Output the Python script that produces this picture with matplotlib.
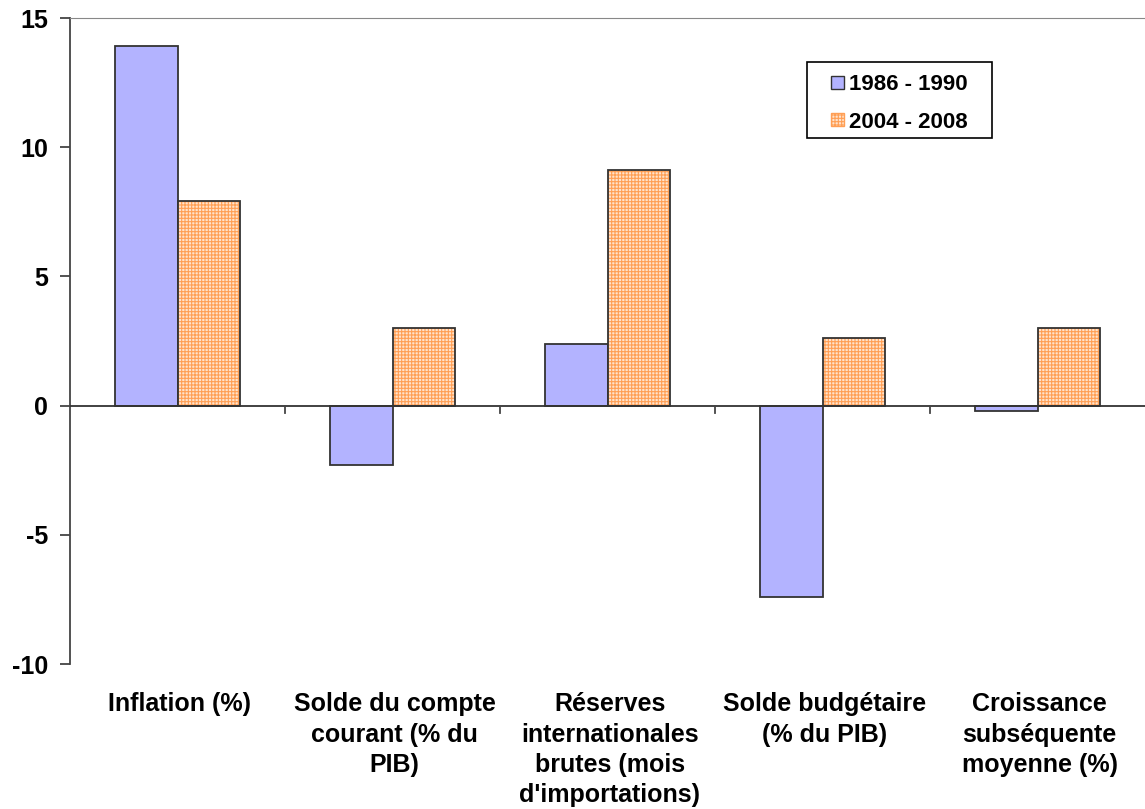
import matplotlib.pyplot as plt
import numpy as np
from matplotlib.patches import Patch, Rectangle
from matplotlib.legend_handler import HandlerPatch

categories = ["Inflation (%)", "Solde du compte\ncourant (% du\nPIB)",
              "Réserves\ninternationales\nbrutes (mois\nd'importations)",
              "Solde budgétaire\n(% du PIB)", "Croissance\nsubséquente\nmoyenne (%)"]
series_1986 = [13.9, -2.3, 2.4, -7.4, -0.2]
series_2004 = [7.9, 3.0, 9.1, 2.6, 3.0]
labels = ["1986 - 1990", "2004 - 2008"]

plt.rcParams['font.family'] = ['Liberation Sans', 'DejaVu Sans']
plt.rcParams['font.weight'] = 'bold'
plt.rcParams['axes.unicode_minus'] = False
plt.rcParams['hatch.linewidth'] = 0.8

W, H = 1145, 809
fig = plt.figure(figsize=(W / 100, H / 100), dpi=100)
ax = fig.add_axes([70 / W, 145 / H, 1 - 70 / W, 646 / H])

x = np.arange(len(categories))
w = 0.289
blue = '#B3B3FF'
orange_fill = '#FFE3CC'
orange_hatch = '#FF9F55'

ax.bar(x - w / 2, series_1986, w, color=blue, edgecolor='#333333', linewidth=1.3, zorder=3)
# orange hatched bars: fill + hatch first, then outline on top
ax.bar(x + w / 2, series_2004, w, color=orange_fill, edgecolor=orange_hatch, hatch='+++++',
       linewidth=0, zorder=3)
ax.bar(x + w / 2, series_2004, w, color='none', edgecolor='#333333', linewidth=1.3, zorder=4)

ax.set_xlim(-0.5, 4.5)
ax.set_ylim(-10, 15)
ax.set_yticks([-10, -5, 0, 5, 10, 15])
ax.tick_params(axis='y', labelsize=18, length=7, width=1.3, color='#444444', pad=9)

ax.axhline(0, color='#333333', linewidth=1.3, zorder=5)
ax.set_xticks([])
for b in [0.5, 1.5, 2.5, 3.5]:
    ax.plot([b, b], [0, -0.3], color='#444444', linewidth=1.3, zorder=5, clip_on=False)

for i, c in enumerate(categories):
    ax.text(i + 0.01, -11.1, c, ha='center', va='top', fontsize=18, fontweight='bold',
            linespacing=1.33)

for s in ['right', 'bottom']:
    ax.spines[s].set_visible(False)
ax.spines['left'].set_color('#444444')
ax.spines['left'].set_linewidth(1.3)
ax.spines['top'].set_color('#888888')
ax.spines['top'].set_linewidth(0.8)


def small_square(legend, orig_handle, xdescent, ydescent, width, height, fontsize):
    size = 13 * 72 / 100
    return Rectangle((width - size - xdescent, (height - size) / 2 - ydescent), size, size)


handles = [Patch(facecolor=blue, edgecolor='#333333', linewidth=1),
           Patch(facecolor=orange_fill, edgecolor=orange_hatch, hatch='+++++', linewidth=1)]
leg = ax.legend(handles, labels, loc='upper left',
                bbox_to_anchor=((807 - 70) / 1075, 1 - (65 - 18) / 646),
                borderaxespad=0, fontsize=16, frameon=False,
                handlelength=1.25, handleheight=0.6, handletextpad=0.25,
                borderpad=0.4, labelspacing=0.75,
                handler_map={Patch: HandlerPatch(patch_func=small_square)})
# legend box
fig.patches.append(Rectangle((807 / W, 1 - 138 / H), 185 / W, 76 / H, transform=fig.transFigure,
                             facecolor='none', edgecolor='black', linewidth=1.2, zorder=10))

fig.savefig('out.png', dpi=100)
